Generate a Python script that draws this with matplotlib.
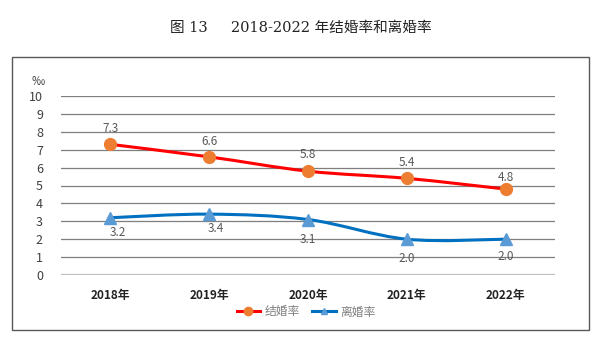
import matplotlib
matplotlib.use("Agg")
import matplotlib.pyplot as plt
from matplotlib.path import Path
from matplotlib.patches import PathPatch, Rectangle
from matplotlib.lines import Line2D

years = ["2018年", "2019年", "2020年", "2021年", "2022年"]
marriage = [7.3, 6.6, 5.8, 5.4, 4.8]
divorce = [3.2, 3.4, 3.1, 2.0, 2.0]
yticks = list(range(0, 11))
title = "图 13     2018-2022 年结婚率和离婚率"
series_names = ["结婚率", "离婚率"]

plt.rcParams['font.family'] = ['Noto Sans CJK SC', 'DejaVu Sans']

fig = plt.figure(figsize=(6.01, 3.52), dpi=100)
W, H = 601, 352

# outer chart frame
fig.patches.append(Rectangle((12 / W, 1 - 330 / H), (589 - 12) / W, (330 - 57) / H,
                             transform=fig.transFigure, fill=False,
                             edgecolor="#595959", linewidth=1.0))

fig.text(0.5, 1 - 28 / H, title, ha="center", va="center", fontsize=10.5,
         family=["DejaVu Serif", "Noto Sans CJK SC"], color="#222222")

ax = fig.add_axes([61 / W, 1 - 275 / H, (555 - 61) / W, (275 - 96) / H])
ax.set_xlim(0, 5)
ax.set_ylim(0, 10)
for s in ax.spines.values():
    s.set_visible(False)
for v in yticks[1:]:
    ax.axhline(v, color="#7f7f7f", linewidth=0.9, zorder=1)
ax.axhline(0, color="#bfbfbf", linewidth=1.6, zorder=1)
ax.set_yticks(yticks)
ax.set_yticklabels([str(v) for v in yticks], color="#404040", fontsize=9)
ax.tick_params(axis="y", length=0, pad=13)
xs = [i + 0.5 for i in range(len(years))]
ax.set_xticks(xs)
ax.set_xticklabels(years, fontsize=8.5, fontweight="bold", color="#222222")
ax.tick_params(axis="x", length=0, pad=10)
ax.text(-0.16, 10.8, "‰", ha="right", va="center", fontsize=9.5, color="#404040",
        transform=ax.transData)


def smooth_path(x, y):
    pts = list(zip(x, y))
    verts = [pts[0]]
    codes = [Path.MOVETO]
    n = len(pts)
    for i in range(n - 1):
        p0 = pts[i - 1] if i > 0 else pts[i]
        p1 = pts[i]
        p2 = pts[i + 1]
        p3 = pts[i + 2] if i + 2 < n else pts[i + 1]
        c1 = (p1[0] + (p2[0] - p0[0]) / 6, p1[1] + (p2[1] - p0[1]) / 6)
        c2 = (p2[0] - (p3[0] - p1[0]) / 6, p2[1] - (p3[1] - p1[1]) / 6)
        verts += [c1, c2, p2]
        codes += [Path.CURVE4] * 3
    return Path(verts, codes)


ax.add_patch(PathPatch(smooth_path(xs, marriage), fill=False, edgecolor="#ff0000",
                       linewidth=2.2, zorder=3))
ax.add_patch(PathPatch(smooth_path(xs, divorce), fill=False, edgecolor="#0070c0",
                       linewidth=2.2, zorder=3))
ax.plot(xs, marriage, linestyle="none", marker="o", markersize=8.5,
        color="#ed7d31", zorder=4)
ax.plot(xs, divorce, linestyle="none", marker="^", markersize=8.5,
        color="#5b9bd5", zorder=4)

mar_off = [(0, 7), (0, 6.5), (0, 7.5), (0, 6.5), (0, 3.5)]
for (x, v), (dx, dy) in zip(zip(xs, marriage), mar_off):
    ax.annotate(f"{v:.1f}", (x, v), xytext=(dx, dy), textcoords="offset points",
                ha="center", va="bottom", fontsize=8.5, color="#595959")
div_off = [(5, -6), (5, -6), (0, -10), (0, -9), (0, -8)]
for (x, v), (dx, dy) in zip(zip(xs, divorce), div_off):
    ax.annotate(f"{v:.1f}", (x, v), xytext=(dx, dy), textcoords="offset points",
                ha="center", va="top", fontsize=8.5, color="#595959")

handles = [Line2D([], [], color="#ff0000", linewidth=2.2, marker="o",
                  markersize=6, markerfacecolor="#ed7d31", markeredgecolor="#ed7d31"),
           Line2D([], [], color="#0070c0", linewidth=2.2, marker="^",
                  markersize=5, markerfacecolor="#5b9bd5", markeredgecolor="#5b9bd5")]
leg = fig.legend(handles, series_names, loc="center", bbox_to_anchor=(306 / W, 1 - 312 / H),
                 ncol=2, frameon=False, fontsize=8.5, handlelength=2.0,
                 columnspacing=1.0, handletextpad=0.4)
for t in leg.get_texts():
    t.set_color("#7f7f7f")

fig.savefig("out.png", dpi=100)
